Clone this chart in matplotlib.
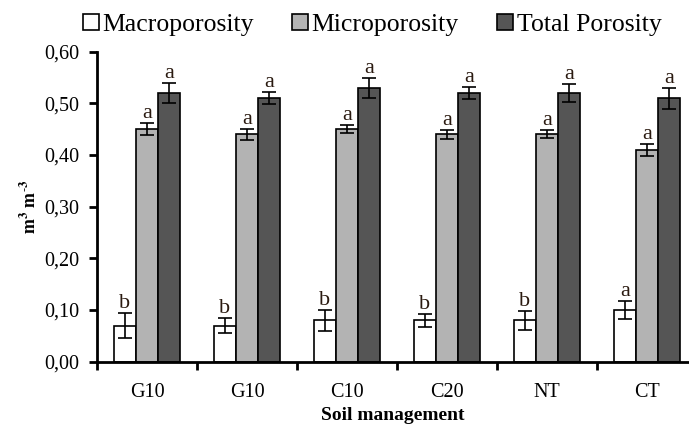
import matplotlib.pyplot as plt
import matplotlib
import numpy as np
from matplotlib.ticker import FixedLocator, FuncFormatter

treatments = ['G10', 'G10', 'C10', 'C20', 'NT', 'CT']
macro = [0.07, 0.07, 0.08, 0.08, 0.08, 0.10]
macro_err = [0.024, 0.015, 0.02, 0.012, 0.018, 0.017]
micro = [0.45, 0.44, 0.45, 0.44, 0.44, 0.41]
micro_err = [0.012, 0.011, 0.008, 0.009, 0.008, 0.011]
total = [0.52, 0.51, 0.53, 0.52, 0.52, 0.51]
total_err = [0.019, 0.011, 0.02, 0.011, 0.018, 0.02]
macro_letters = ['b', 'b', 'b', 'b', 'b', 'a']
micro_letters = ['a'] * 6
total_letters = ['a'] * 6

matplotlib.rc('font', family='Liberation Serif')
matplotlib.rcParams['mathtext.fontset'] = 'stix'

fig = plt.figure(figsize=(6.89, 4.25), dpi=100)
ax = fig.add_axes([0.1408, 0.149, 0.859, 0.7294])

x = np.arange(len(treatments))
w = 0.22
series = [
    (macro, macro_err, macro_letters, 'white', 'Macroporosity', -w),
    (micro, micro_err, micro_letters, '#b3b3b3', 'Microporosity', 0),
    (total, total_err, total_letters, '#555555', 'Total Porosity', w),
]
for vals, errs, letters, col, lab, off in series:
    ax.bar(x + off, vals, w, color=col, edgecolor='black', linewidth=1.2, label=lab,
           yerr=errs, error_kw=dict(ecolor='black', elinewidth=1.2, capsize=5, capthick=1.2))
    for xi, v, e, t in zip(x + off, vals, errs, letters):
        ax.annotate(t, (xi, v + e), xytext=(0, 0), textcoords='offset points',
                    ha='center', va='bottom', fontsize=16, color='#2a1a10')

ax.set_xlim(-0.5, 5.42)
ax.set_ylim(0, 0.6)
ax.set_yticks(np.arange(0, 0.61, 0.1))
ax.yaxis.set_major_formatter(FuncFormatter(lambda v, p: f'{v:.2f}'.replace('.', ',')))
ax.xaxis.set_major_locator(FixedLocator(np.arange(-0.5, 6, 1)))
ax.xaxis.set_minor_locator(FixedLocator(x))
ax.set_xticklabels([])
ax.set_xticklabels(treatments, minor=True)
ax.tick_params(axis='x', which='minor', length=0, pad=15, labelsize=14.5)
ax.tick_params(axis='x', which='major', length=6, width=2)
ax.tick_params(axis='y', length=6, width=2, labelsize=14.5, pad=7)
for s in ['top', 'right']:
    ax.spines[s].set_visible(False)
for s in ['left', 'bottom']:
    ax.spines[s].set_linewidth(2)

ax.set_xlabel('Soil management', fontsize=14, fontweight='bold', labelpad=4)
ax.set_ylabel(r'$\mathbf{m^3\ m^{\text{-}3}}$', fontsize=13, labelpad=3)

ax.legend(loc='lower center', bbox_to_anchor=(0.465, 1.0), ncol=3, frameon=False,
          fontsize=18.5, handlelength=0.6, handleheight=0.6, handletextpad=0.15,
          columnspacing=1.5, borderaxespad=0.2)

fig.savefig('out.png', dpi=100)
